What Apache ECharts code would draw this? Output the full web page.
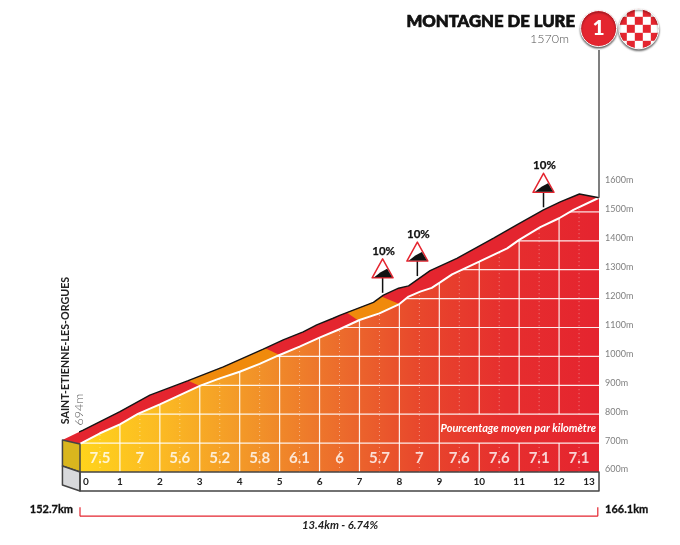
<!DOCTYPE html>
<html><head><meta charset="utf-8">
<style>html,body{margin:0;padding:0;background:#fff}#c{width:680px;height:545px}</style>
<script src="https://cdn.jsdelivr.net/npm/echarts@6/dist/echarts.min.js"></script>
</head><body><div id="c"></div>
<script>
const kmTicks=[0,1,2,3,4,5,6,7,8,9,10,11,12,13];
const gradients=[7.5,7,5.6,5.2,5.8,6.1,6,5.7,7,7.6,7.6,7.1,7.1];
const lowerProfile=[[0,697],[0.5,734],[1,765],[1.45,801],[2,834],[2.5,866],[3,898],[3.5,924],[4,947],[4.5,974],[5,1005],[5.5,1034],[6,1065],[6.5,1094],[7,1126],[7.5,1149],[8,1181],[8.23,1207],[8.52,1224],[8.81,1237],[9.02,1256],[9.32,1284],[10,1328],[10.7,1374],[11,1403],[11.53,1447],[12,1478],[12.36,1507],[13,1549]];
const upperProfile=[[-0.44,711],[0.08,745],[1,809],[1.75,866],[2.71,916],[3.59,964],[4.59,1025],[5.09,1057],[5.59,1085],[5.93,1109],[6.34,1132],[6.52,1143],[7.35,1187],[7.6,1212],[7.98,1236],[8.23,1244],[8.77,1297],[9.44,1339],[10.36,1409],[10.94,1455],[11.61,1507],[12.03,1535],[12.51,1562],[13,1549]];
const orangeBands=[[2.71,4.64,3.0,5.0],[6.68,7.55,6.97,8.0]];
const signs=[[7.58,1220],[8.45,1278],[11.61,1516]];
const sideYellow=[[-0.44,711],[0,697],[0,600],[-0.44,621]];
const sideGrey=[[-0.44,621],[0,600],[0,534],[-0.44,555]];
const baseBox=[[0,600],[13,600],[13,534],[0,534]];
const poleData=[[13,1549],[13,2060]];
const bracketData=[[0,478],[0,447],[12.97,447],[12.97,478]];
const F='Lato, "Liberation Sans", sans-serif';
const RED='#E4252F';

function interp(p,km){for(let i=1;i<p.length;i++){if(km<=p[i][0]){const a=p[i-1],b=p[i];return a[1]+(b[1]-a[1])*(km-a[0])/(b[0]-a[0]);}}return p[p.length-1][1];}
function kmAt(p,h){for(let i=1;i<p.length;i++){if(h<=p[i][1]){const a=p[i-1],b=p[i];return a[0]+(b[0]-a[0])*(h-a[1])/(b[1]-a[1]);}}return p[p.length-1][0];}
function slice(p,a,b){const o=[[a,interp(p,a)]];p.forEach(q=>{if(q[0]>a&&q[0]<b)o.push(q)});o.push([b,interp(p,b)]);return o;}
function poly(api,pts,style){return {type:'polygon',shape:{points:pts.map(q=>api.coord(q))},style};}
function seg(api,a,b,style){const p=api.coord(a),q=api.coord(b);return {type:'line',shape:{x1:p[0],y1:p[1],x2:q[0],y2:q[1]},style};}

const tile=document.createElement('canvas');tile.width=tile.height=16;
const tc=tile.getContext('2d');tc.fillStyle='#fff';tc.fillRect(0,0,16,16);tc.fillStyle=RED;tc.fillRect(8,0,8,8);tc.fillRect(0,8,8,8);

const chart=echarts.init(document.getElementById('c'),null,{renderer:'canvas'});
const tickRich={fontFamily:F,fontSize:10,fontWeight:'bold',color:'#222'};
chart.setOption({
 animation:false,
 grid:{left:80,right:81,top:38.5,bottom:73,containLabel:false},
 xAxis:{type:'value',z:9,min:0,max:13,interval:1,axisLine:{show:false},axisTick:{show:false},splitLine:{show:false},
  axisLabel:{show:true,margin:5,showMinLabel:true,showMaxLabel:true,fontFamily:F,fontSize:10,fontWeight:'bold',color:'#222',
   formatter:v=>v===0?'{a|0}':v===13?'{b|13}':String(v),
   rich:{a:Object.assign({padding:[0,0,0,12]},tickRich),b:Object.assign({padding:[0,20,0,0]},tickRich)}}},
 yAxis:{type:'value',min:600,max:2100,interval:100,position:'right',axisLine:{show:false},axisTick:{show:false},splitLine:{show:false},
  axisLabel:{margin:6,formatter:v=>v<=1600?'{m|'+v+'m}':'',
   rich:{m:{fontFamily:F,fontSize:9,color:'#808080',padding:[0,0,5,0]}}}},
 series:[
  {type:'custom',z:2,silent:true,data:[[0,0]],renderItem:(p,api)=>{
    const ch=[poly(api,upperProfile.concat(lowerProfile.slice().reverse()),{fill:RED})];
    orangeBands.forEach(b=>ch.push(poly(api,slice(upperProfile,b[0],b[1]).concat(slice(lowerProfile,b[2],b[3]).reverse()),{fill:'#F08A0C'})));
    return {type:'group',children:ch};}},
  {type:'line',z:1,silent:true,data:lowerProfile,symbol:'none',lineStyle:{width:0},
   areaStyle:{opacity:1,origin:'start',color:new echarts.graphic.LinearGradient(0,0,1,0,[{offset:0,color:'#FFD41C'},{offset:.16,color:'#FBB923'},{offset:.35,color:'#F19029'},{offset:.5,color:'#EC6C2C'},{offset:.65,color:'#E8482C'},{offset:.82,color:'#E62E2E'},{offset:1,color:'#E5242F'}])}},
  {type:'custom',z:3,silent:true,data:[[0,0]],renderItem:(p,api)=>{
    const ch=[],W={stroke:'#fff',lineWidth:1.2,opacity:.9},D={stroke:'#fff',lineWidth:1,lineDash:[1,3],opacity:.45};
    for(let h=700;h<=1500;h+=100)ch.push(seg(api,[kmAt(lowerProfile,h),h],[13,h],W));
    kmTicks.slice(1,13).forEach(k=>{
      const top=interp(lowerProfile,k);
      if(k>=10){ch.push(seg(api,[k,600],[k,700],W));ch.push(seg(api,[k,800],[k,top],W));}
      else ch.push(seg(api,[k,600],[k,top],W));
    });
    kmTicks.slice(0,13).forEach(k=>{const m=k+.5,top=interp(lowerProfile,m);
      if(k>=9){ch.push(seg(api,[m,600],[m,700],D));ch.push(seg(api,[m,800],[m,top],D));}
      else ch.push(seg(api,[m,600],[m,top],D));});
    return {type:'group',children:ch};}},
  {type:'line',z:4,silent:true,data:lowerProfile,symbol:'none',lineStyle:{color:'#fff',width:2}},
  {type:'line',z:4,silent:true,clip:false,data:upperProfile,symbol:'none',lineStyle:{color:'#151515',width:1.4}},
  {type:'line',z:4,silent:true,clip:false,data:poleData,symbol:'none',lineStyle:{color:'#555',width:1.5}},
  {type:'custom',z:5,silent:true,data:[[0,0]],renderItem:(p,api)=>{
    const dk={stroke:'#444',fill:null,lineWidth:1.5,lineJoin:'round'};
    return {type:'group',children:[
      poly(api,sideYellow,Object.assign({},dk,{fill:'#D9B61E'})),
      poly(api,sideGrey,Object.assign({},dk,{fill:'#D8D9DB'})),
      poly(api,baseBox,Object.assign({},dk,{fill:null,stroke:'#444'})),
      seg(api,bracketData[0],bracketData[1],{stroke:RED,lineWidth:1.2}),
      seg(api,bracketData[1],bracketData[2],{stroke:RED,lineWidth:1.2}),
      seg(api,bracketData[2],bracketData[3],{stroke:RED,lineWidth:1.2})
      ]};}},
  {type:'scatter',z:6,silent:true,symbolSize:0,data:gradients.map((v,i)=>({value:[i+.5,647],label:{formatter:String(v)}})),
   label:{show:true,position:'inside',color:'#fff',fontFamily:F,fontSize:15,fontWeight:'bold'}},
  {type:'custom',z:7,silent:true,data:signs,renderItem:(p,api)=>{
    const c=api.coord([api.value(0),api.value(1)]),x=c[0],y=c[1],b=y-15,t=b-19;
    return {type:'group',children:[
     {type:'line',shape:{x1:x,y1:y,x2:x,y2:b},style:{stroke:'#111',lineWidth:1.5}},
     {type:'polygon',shape:{points:[[x,t],[x-10.5,b],[x+10.5,b]]},style:{fill:'#fff',stroke:RED,lineWidth:1.5,lineJoin:'round'}},
     {type:'polygon',shape:{points:[[x-8.5,b-.6],[x+9.5,b-.6],[x+4.5,b-9],[x-2,b-5.5]]},style:{fill:'#111'}},
     {type:'text',style:{x:x+1,y:t-8,text:'10%',align:'center',verticalAlign:'middle',font:'bold 11.5px '+F,fill:'#111',stroke:'#111',lineWidth:.25}}
    ]};}}
 ],
 graphic:[
  {type:'text',z:20,style:{x:575,y:22,text:'MONTAGNE DE LURE',align:'right',verticalAlign:'middle',font:'900 16.7px '+F,fill:'#111',stroke:'#111',lineWidth:.7}},
  {type:'text',z:20,style:{x:569,y:39,text:'1570m',align:'right',verticalAlign:'middle',font:'300 12.5px '+F,fill:'#555'}},
  {type:'circle',z:20,shape:{cx:598.6,cy:28.5,r:18},style:{fill:RED,stroke:'#fff',lineWidth:1,shadowBlur:2,shadowOffsetY:1.5,shadowColor:'rgba(0,0,0,.6)'}},
  {type:'text',z:21,style:{x:598.6,y:28.5,text:'1',align:'center',verticalAlign:'middle',font:'900 21px '+F,fill:'#fff'}},
  {type:'circle',z:19,x:634.8,y:24.8,shape:{cx:4,cy:4,r:20},style:{fill:{image:tile,repeat:'repeat'},stroke:'#fff',lineWidth:1,shadowBlur:2,shadowOffsetY:1.5,shadowColor:'rgba(0,0,0,.6)'}},
  {type:'text',z:20,x:66,y:350.5,rotation:Math.PI/2,style:{x:0,y:0,text:'SAINT-ETIENNE-LES-ORGUES',align:'center',verticalAlign:'middle',font:'bold 10.7px '+F,fill:'#222'}},
  {type:'text',z:20,x:79,y:409.5,rotation:Math.PI/2,style:{x:0,y:0,text:'694m',align:'center',verticalAlign:'middle',font:'300 12.5px '+F,fill:'#555'}},
  {type:'text',z:20,style:{x:596,y:428,text:'Pourcentage moyen par kilomètre',align:'right',verticalAlign:'middle',font:'italic bold 11px '+F,fill:'#fff'}},
  {type:'text',z:20,style:{x:73,y:509,text:'152.7km',align:'right',verticalAlign:'middle',font:'bold 11px '+F,fill:'#111',stroke:'#111',lineWidth:.3}},
  {type:'text',z:20,style:{x:605,y:509,text:'166.1km',align:'left',verticalAlign:'middle',font:'bold 11px '+F,fill:'#111',stroke:'#111',lineWidth:.3}},
  {type:'text',z:20,style:{x:340,y:525,text:'13.4km - 6.74%',align:'center',verticalAlign:'middle',font:'italic bold 11.3px '+F,fill:'#222'}}
 ]
});
</script></body></html>
